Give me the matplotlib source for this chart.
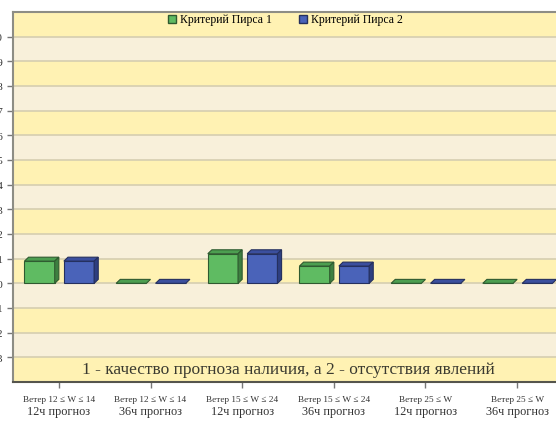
import numpy as np
import matplotlib.pyplot as plt
from matplotlib.patches import Polygon
from matplotlib.lines import Line2D

plt.rcParams['font.family'] = ['Liberation Serif', 'DejaVu Serif']

# данные
wind = ["Ветер 12 ≤ W ≤ 14", "Ветер 12 ≤ W ≤ 14", "Ветер 15 ≤ W ≤ 24",
        "Ветер 15 ≤ W ≤ 24", "Ветер 25 ≤ W", "Ветер 25 ≤ W"]
lead = ["12ч прогноз", "36ч прогноз", "12ч прогноз",
        "36ч прогноз", "12ч прогноз", "36ч прогноз"]
pirs1 = [0.09, 0.0, 0.12, 0.07, 0.0, 0.0]
pirs2 = [0.09, 0.0, 0.12, 0.07, 0.0, 0.0]
series_names = ["Критерий Пирса 1", "Критерий Пирса 2"]
yticks = np.round(np.arange(-0.3, 1.01, 0.1), 1)

fig = plt.figure(figsize=(5.56, 4.21), dpi=100)
ax = fig.add_axes([13/556, 39/421, 550/556, 370/421])
ax.set_xlim(-0.5, 5.5)
ax.set_ylim(-0.4, 1.1)

# полосы фона
for y0 in np.round(np.arange(-0.4, 1.1, 0.1), 1):
    col = '#fff2b3' if round((1.0 - y0) * 10) % 2 == 0 else '#f8f0da'
    ax.axhspan(y0, y0 + 0.1, color=col, zorder=0, lw=0)
for y in yticks:
    ax.axhline(y, color='#d6ceb0', lw=1.2, zorder=1)

# объёмные столбики
w = 0.33
dx, dy = 0.045, 0.016
def box(xc, h, front, top, side, edge):
    x0, x1 = xc - w/2, xc + w/2
    ax.bar(xc, h, width=w, color=front, edgecolor=edge, lw=0.8, zorder=3)
    ax.add_patch(Polygon([(x0, h), (x1, h), (x1 + dx, h + dy), (x0 + dx, h + dy)],
                         closed=True, fc=top, ec=edge, lw=0.8, zorder=4))
    if h > 0:
        ax.add_patch(Polygon([(x1, 0), (x1 + dx, dy), (x1 + dx, h + dy), (x1, h)],
                             closed=True, fc=side, ec=edge, lw=0.8, zorder=4))

x = np.arange(len(wind))
for xi, v1, v2 in zip(x, pirs1, pirs2):
    box(xi - 0.21, v1, '#5fbb62', '#4c9e50', '#3d7f40', '#2f5a30')
    box(xi + 0.22, v2, '#4a63b9', '#3b4f9e', '#2e3f80', '#25305e')

# оси
ax.set_yticks(yticks)
ax.set_yticklabels([f"{v:.1f}".replace('.', ',').replace('-0,0', '0,0') for v in yticks])
ax.set_xticks(x)
ax.set_xticklabels(wind, fontsize=6.7, color='#333333')
ax.tick_params(axis='y', length=4, width=1, color='#777777', pad=3, labelsize=8, labelcolor='#333333')
ax.tick_params(axis='x', length=4, width=1, color='#777777', pad=6)
for lab, t in zip(x, lead):
    ax.text(lab, -0.082, t, transform=ax.get_xaxis_transform(), ha='center', va='center',
            fontsize=8.8, color='#333333')
for s in ['left', 'top']:
    ax.spines[s].set_color('#8d8d85')
    ax.spines[s].set_linewidth(1.5)
ax.spines['bottom'].set_color('#55554d')
ax.spines['bottom'].set_linewidth(1.5)
ax.spines['right'].set_visible(False)

ax.text(0.5, -0.35, "1 - качество прогноза наличия, а 2 - отсутствия явлений",
        transform=ax.get_yaxis_transform(), ha='center', va='center',
        fontsize=12.5, color='#3a3a30', zorder=5)

handles = [Line2D([], [], marker='s', ls='', ms=6, mfc='#5fbb62', mec='#2f5a30'),
           Line2D([], [], marker='s', ls='', ms=6, mfc='#4a63b9', mec='#25305e')]
ax.legend(handles, series_names, loc='center', bbox_to_anchor=(272/550, 1 - 8/370),
          ncol=2, frameon=False, fontsize=8.5, handletextpad=0.3, columnspacing=2.2,
          borderpad=0, handlelength=0.8)

fig.savefig('out.png', dpi=100)
